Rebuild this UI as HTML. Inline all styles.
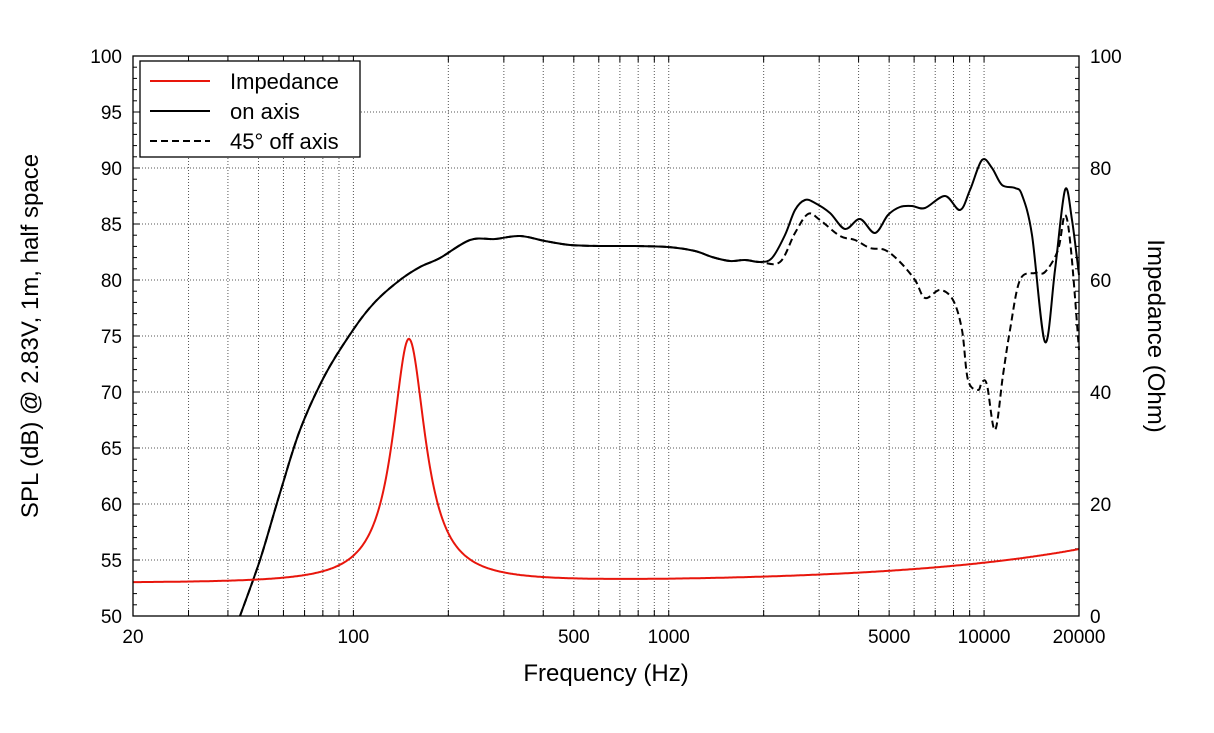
<!DOCTYPE html>
<html><head><meta charset="utf-8"><style>
html,body{margin:0;padding:0;background:#fff}
svg text{font-family:"Liberation Sans",Arial,sans-serif;fill:#000}
</style></head><body>
<svg id="s" width="1214" height="728" viewBox="0 0 1214 728" xmlns="http://www.w3.org/2000/svg">
<g id="grid"></g>
<g id="curves"></g>
<rect x="133" y="56" width="946" height="560" fill="none" stroke="#000" stroke-width="1.3"/>
<g id="labels" font-size="19"></g>
<rect x="140" y="61" width="220" height="96" fill="#fff" stroke="#000" stroke-width="1.3"/>
<line x1="150" y1="81" x2="210" y2="81" stroke="#e8160c" stroke-width="2"/>
<line x1="150" y1="111" x2="210" y2="111" stroke="#000" stroke-width="2"/>
<line x1="150" y1="141" x2="210" y2="141" stroke="#000" stroke-width="2" stroke-dasharray="7,4"/>
<text x="230" y="89" font-size="22">Impedance</text>
<text x="230" y="119" font-size="22">on axis</text>
<text x="230" y="149" font-size="22">45° off axis</text>
<text x="606" y="681" font-size="24" text-anchor="middle">Frequency (Hz)</text>
<text transform="translate(38,336) rotate(-90)" font-size="24" text-anchor="middle">SPL (dB) @ 2.83V, 1m, half space</text>
<text transform="translate(1148,336) rotate(90)" font-size="24" text-anchor="middle">Impedance (Ohm)</text>
</svg>
<script>
var NS="http://www.w3.org/2000/svg";
function X(f){return 133+315.33*Math.log10(f/20);}
function Y(d){return 56+(100-d)*11.2;}
function el(p,t,a,txt){var e=document.createElementNS(NS,t);for(var k in a)e.setAttribute(k,a[k]);if(txt!=null)e.textContent=txt;document.getElementById(p).appendChild(e);return e;}
for(var d=55;d<100;d+=5)el("grid","line",{x1:133,x2:1079,y1:Y(d),y2:Y(d),stroke:"#555","stroke-width":1,"stroke-dasharray":"1,2"});
var vf=[];[10,100,1000,10000].forEach(function(m){for(var i=1;i<10;i++){var f=i*m;if(f>20&&f<20000)vf.push(f);}});
vf.forEach(function(f){el("grid","line",{x1:X(f),x2:X(f),y1:56,y2:616,stroke:"#555","stroke-width":1,"stroke-dasharray":"1,2"});
 el("grid","line",{x1:X(f),x2:X(f),y1:56,y2:62,stroke:"#000"});el("grid","line",{x1:X(f),x2:X(f),y1:616,y2:610,stroke:"#000"});});
for(var d=51;d<100;d++){var L=(d%5==0)?7:4;el("grid","line",{x1:133,x2:133+L,y1:Y(d),y2:Y(d),stroke:"#000"});}
for(var o=2;o<100;o+=2){var L=(o%20==0)?7:4;var y=616-o*5.6;el("grid","line",{x1:1079,x2:1079-L,y1:y,y2:y,stroke:"#000"});}
for(var d=50;d<=100;d+=5)el("labels","text",{x:122,y:Y(d)+7,"text-anchor":"end"},String(d));
for(var o=0;o<=100;o+=20)el("labels","text",{x:1090,y:616-o*5.6+7},String(o));
[20,100,500,1000,5000,10000,20000].forEach(function(f){el("labels","text",{x:X(f),y:643,"text-anchor":"middle"},String(f));});
function spline(pts){var s="M"+pts[0][0].toFixed(1)+","+pts[0][1].toFixed(1);
 for(var i=0;i<pts.length-1;i++){var p0=pts[i-1]||pts[i],p1=pts[i],p2=pts[i+1],p3=pts[i+2]||p2;
  var c1=[p1[0]+(p2[0]-p0[0])/6,p1[1]+(p2[1]-p0[1])/6],c2=[p2[0]-(p3[0]-p1[0])/6,p2[1]-(p3[1]-p1[1])/6];
  s+=" C"+c1[0].toFixed(1)+","+c1[1].toFixed(1)+" "+c2[0].toFixed(1)+","+c2[1].toFixed(1)+" "+p2[0].toFixed(1)+","+p2[1].toFixed(1);}
 return s;}
var common=[[240,616],[260,560],[280,493],[300,430],[325,375],[353,330],[375,302],[400,280],[420,267],[440,258],[470,240],[495,239],[520,236],[545,241],[570,245],[600,246],[635,246],[668,247],[695,251],[712,257],[730,261],[745,260],[760,262]];
var on=common.concat([[772,258],[785,235],[795,210],[805,200],[815,203],[830,213],[845,229],[860,219],[875,233],[888,215],[900,207],[912,206],[925,208],[945,196],[960,210],[970,190],[982,160],[992,168],[1002,185],[1015,188],[1022,195],[1032,235],[1045,342],[1055,270],[1065,190],[1072,220],[1079,275]]);
var off=common.concat([[780,262],[795,233],[808,214],[820,220],[840,236],[855,240],[870,248],[885,250],[900,262],[915,280],[925,298],[940,290],[953,300],[962,330],[968,380],[978,390],[982,382],[987,385],[995,430],[1003,375],[1010,330],[1020,280],[1035,273],[1045,272],[1058,250],[1065,215],[1071,250],[1079,350]]);
el("curves","path",{d:spline(on),fill:"none",stroke:"#000","stroke-width":2});
el("curves","path",{d:spline(off),fill:"none",stroke:"#000","stroke-width":2,"stroke-dasharray":"7,4"});
var zp=[];for(var x=133;x<=1079;x+=1){var f=20*Math.pow(10,(x-133)/315.33);var r=f/150-150/f;
 var z=5.95+43.4/(1+11.8*r*r)+6*Math.pow(f/20000,0.75);zp.push((zp.length?"L":"M")+x+","+(616-z*5.6).toFixed(1));}
el("curves","path",{d:zp.join(" "),fill:"none",stroke:"#e8160c","stroke-width":2});
</script>
</body></html>
